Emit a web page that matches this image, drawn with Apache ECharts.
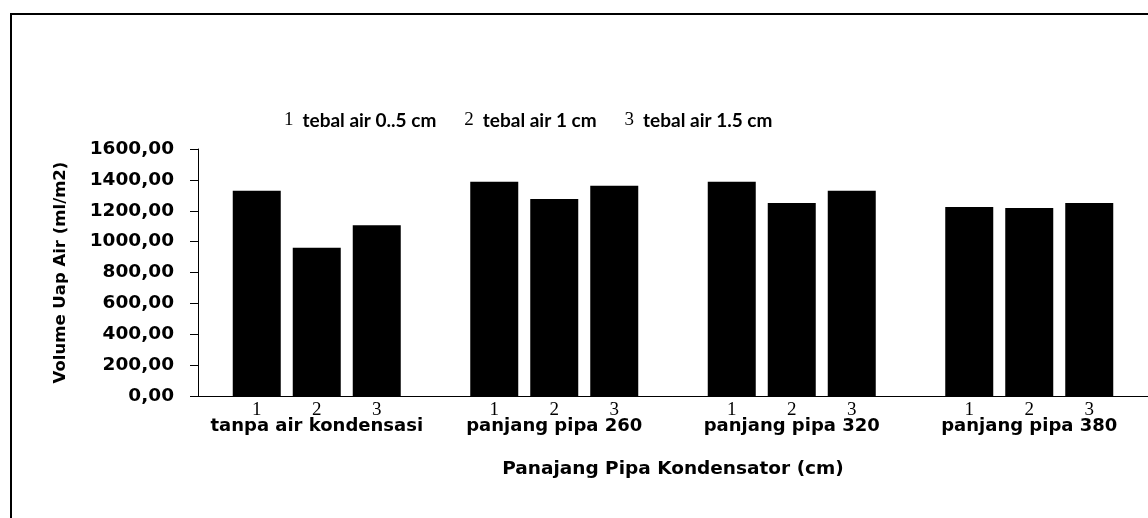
<!DOCTYPE html>
<html>
<head>
<meta charset="utf-8">
<script src="https://cdn.jsdelivr.net/npm/echarts@6/dist/echarts.min.js"></script>
<style>
html,body{margin:0;padding:0;background:#fff;}
#chart{width:1148px;height:518px;}
</style>
</head>
<body>
<div id="chart"></div>
<script>
// ---- data ----
const categories = ['tanpa air kondensasi', 'panjang pipa 260', 'panjang pipa 320', 'panjang pipa 380'];
const seriesNames = ['tebal air 0..5 cm', 'tebal air 1 cm', 'tebal air 1.5 cm'];
const subLabels = ['1', '2', '3'];
const thick05 = [1330, 1388, 1388, 1224];
const thick10 = [961, 1276, 1250, 1218];
const thick15 = [1106, 1362, 1330, 1250];
const yTickLabels = ['0,00', '200,00', '400,00', '600,00', '800,00', '1000,00', '1200,00', '1400,00', '1600,00'];
const yTitle = 'Volume Uap Air (ml/m2)';
const xTitle = 'Panajang Pipa Kondensator (cm)';

const seriesData = [thick05, thick10, thick15];

const chart = echarts.init(document.getElementById('chart'), null, {renderer: 'canvas'});

const series = seriesData.map((d, i) => ({
  name: seriesNames[i],
  type: 'bar',
  data: d,
  barWidth: 48,
  barGap: '25%',
  itemStyle: {color: '#000'},
  label: {
    show: true,
    position: 'bottom',
    distance: 5,
    formatter: () => subLabels[i],
    color: '#000',
    fontFamily: 'Liberation Serif',
    fontSize: 19
  },
  emphasis: {disabled: true},
  animation: false
}));

chart.setOption({
  backgroundColor: '#fff',
  animation: false,
  graphic: [{
    type: 'rect',
    shape: {x: 11, y: 14, width: 1300, height: 700},
    style: {fill: 'none', stroke: '#000', lineWidth: 2},
    silent: true
  }],
  legend: {
    left: 274,
    top: 106,
    icon: 'none',
    itemWidth: 0,
    itemHeight: 0,
    itemGap: 23,
    selectedMode: false,
    data: seriesNames,
    formatter: function (name) {
      const i = seriesNames.indexOf(name);
      return '{n|' + subLabels[i] + '}{t|' + name + '}';
    },
    textStyle: {
      color: '#000',
      rich: {
        n: {fontFamily: 'Liberation Serif', fontSize: 19, color: '#000', padding: [0, 9, 0, 0]},
        t: {fontFamily: 'Lato', fontWeight: 'bold', fontSize: 19, color: '#000'}
      }
    }
  },
  grid: {left: 198, top: 149, width: 956, height: 247, containLabel: false},
  xAxis: {
    type: 'category',
    data: categories,
    axisLine: {lineStyle: {color: '#000', width: 1}},
    axisTick: {show: false},
    axisLabel: {
      color: '#000',
      fontFamily: 'DejaVu Sans',
      fontWeight: 'bold',
      fontSize: 18,
      margin: 21,
      interval: 0
    },
    name: xTitle,
    nameLocation: 'middle',
    nameGap: 64,
    nameTextStyle: {color: '#000', fontFamily: 'DejaVu Sans', fontWeight: 'bold', fontSize: 18.5}
  },
  yAxis: {
    type: 'value',
    min: 0,
    max: 1600,
    interval: 200,
    axisLine: {show: true, lineStyle: {color: '#000', width: 1}},
    axisTick: {show: true, length: 8, lineStyle: {color: '#000'}},
    splitLine: {show: false},
    axisLabel: {
      color: '#000',
      fontFamily: 'DejaVu Sans',
      fontWeight: 'bold',
      fontSize: 18.5,
      margin: 24,
      formatter: function (v) { return yTickLabels[Math.round(v / 200)]; }
    },
    name: yTitle,
    nameLocation: 'middle',
    nameGap: 129,
    nameTextStyle: {color: '#000', fontFamily: 'DejaVu Sans', fontWeight: 'bold', fontSize: 16.5}
  },
  series: series
});
</script>
</body>
</html>
